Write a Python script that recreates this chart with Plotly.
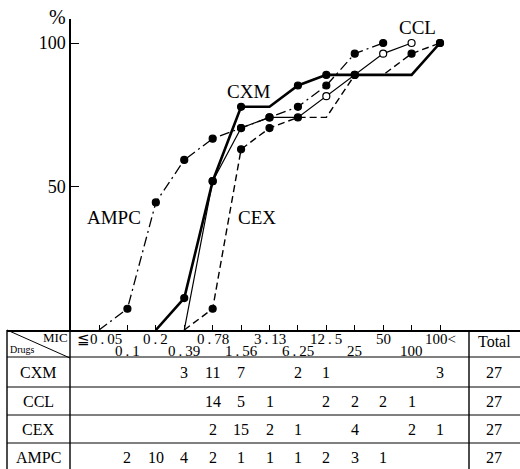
import numpy as np
import plotly.graph_objects as go

# ---------------- data ----------------
mic_labels = ["≦0.05", "0.1", "0.2", "0.39", "0.78", "1.56", "3.13",
              "6.25", "12.5", "25", "50", "100", "100<"]
drugs = ["CXM", "CCL", "CEX", "AMPC"]
cxm = [0, 0, 0, 3, 11, 7, 0, 2, 1, 0, 0, 0, 3]
ccl = [0, 0, 0, 0, 14, 5, 1, 0, 2, 2, 2, 1, 0]
cex = [0, 0, 0, 0, 2, 15, 2, 1, 0, 4, 0, 2, 1]
ampc = [0, 2, 10, 4, 2, 1, 1, 1, 2, 3, 1, 0, 0]
totals = [27, 27, 27, 27]
y_ticks = [50, 100]

counts = {"CXM": cxm, "CCL": ccl, "CEX": cex, "AMPC": ampc}

# ---------------- layout helpers ----------------
W, H = 520, 469
FONT = "Liberation Serif"


def px(x):
    return x / W


def py(y):
    return 1 - y / H


X0_PIX, X_STEP = 99.0, (440.0 - 99.0) / 12
AX_LEFT, AX_BASE, AX_TOP = 7.0, 330.0, 19.0
PCT_PIX = (330.0 - 43.0) / 100.0

x_lo = -(X0_PIX - AX_LEFT) / X_STEP
x_hi = (W - X0_PIX) / X_STEP
y_hi = (AX_BASE - AX_TOP) / PCT_PIX

styles = {
    "CCL": dict(width=1.2, dash="solid", fill="white"),
    "CEX": dict(width=1.4, dash="7px,4px", fill="black"),
    "AMPC": dict(width=1.3, dash="10px,4px,2px,4px", fill="black"),
    "CXM": dict(width=2.6, dash="solid", fill="black"),
}

fig = go.Figure()
for name in ["CCL", "CEX", "AMPC", "CXM"]:
    c = np.array(counts[name])
    total = totals[drugs.index(name)]
    cum = np.cumsum(c) / total * 100
    nz = np.nonzero(c)[0]
    start, end = nz[0] - 1, nz[-1]
    idx = np.arange(start, end + 1)
    sizes = [7 if (i >= 0 and c[i] > 0) else 0 for i in idx]
    st = styles[name]
    fig.add_trace(go.Scatter(
        x=idx, y=cum[idx],
        mode="lines+markers",
        line=dict(color="black", width=st["width"], dash=st["dash"]),
        marker=dict(size=sizes, color=st["fill"], opacity=1,
                    line=dict(color="black", width=1.2)),
        showlegend=False, cliponaxis=False, name=name,
    ))

shapes = []
annotations = []


def hline(y, x0=AX_LEFT, x1=W, w=1.2):
    shapes.append(dict(type="line", xref="paper", yref="paper",
                       x0=px(x0), x1=px(x1), y0=py(y), y1=py(y),
                       line=dict(color="black", width=w)))


def vline(x, y0=AX_BASE, y1=H + 2, w=1.4):
    shapes.append(dict(type="line", xref="paper", yref="paper",
                       x0=px(x), x1=px(x), y0=py(y0), y1=py(y1),
                       line=dict(color="black", width=w)))


def text(t, x, y, size, xref="paper", anchor="center"):
    annotations.append(dict(
        text=t, xref=xref, yref="paper",
        x=(px(x) if xref == "paper" else x), y=py(y),
        showarrow=False, xanchor=anchor, yanchor="middle",
        font=dict(family=FONT, size=size, color="black")))


# table grid
row_lines = [357, 387, 415, 443]
for yl in row_lines:
    hline(yl, w=1.0)
vline(AX_LEFT)
vline(70)
vline(469)
shapes.append(dict(type="line", xref="paper", yref="paper",
                   x0=px(7), y0=py(330), x1=px(70), y1=py(358),
                   line=dict(color="black", width=1)))

# header
text("MIC", 55, 337, 13)
text("Drugs", 22, 349, 10)
text("Total", 494, 341, 16)


def spaced(s):
    return s.replace(".", "\u2009.\u2009")


for i, lab in enumerate(mic_labels):
    yrow = 339 if i % 2 == 0 else 351
    text(spaced(lab), i, yrow, 15, xref="x")

row_centers = [372, 401, 429, 457]
for r, name in enumerate(drugs):
    text(name, 38, row_centers[r], 16)
    for i, v in enumerate(counts[name]):
        if v:
            text(str(v), i, row_centers[r], 16, xref="x")
    text(str(totals[r]), 494, row_centers[r], 16)

# chart labels
text("%", 57, 17, 20)
text("CXM", 248, 91, 19)
text("CCL", 417, 27, 19)
text("AMPC", 114, 217, 19)
text("CEX", 257, 217, 19)

fig.update_layout(
    width=W, height=H,
    margin=dict(l=0, r=0, t=0, b=0),
    paper_bgcolor="white", plot_bgcolor="white",
    shapes=shapes, annotations=annotations,
    xaxis=dict(domain=[px(AX_LEFT), 1], range=[x_lo, x_hi],
               showline=True, linecolor="black", linewidth=1.5,
               ticks="inside", ticklen=5, tickwidth=1, tickcolor="black",
               tickvals=list(range(len(mic_labels))),
               showticklabels=False, showgrid=False, zeroline=False,
               fixedrange=True, automargin=False),
    yaxis=dict(domain=[py(AX_BASE), py(AX_TOP)], range=[0, y_hi],
               anchor="free", position=px(70),
               showline=True, linecolor="black", linewidth=1.5,
               ticks="inside", ticklen=8, tickwidth=1.2, tickcolor="black",
               tickvals=y_ticks, ticktext=[str(v) for v in y_ticks],
               tickfont=dict(family=FONT, size=18, color="black"),
               showgrid=False, zeroline=False, fixedrange=True,
               automargin=False),
)

fig.write_html("out.html")
